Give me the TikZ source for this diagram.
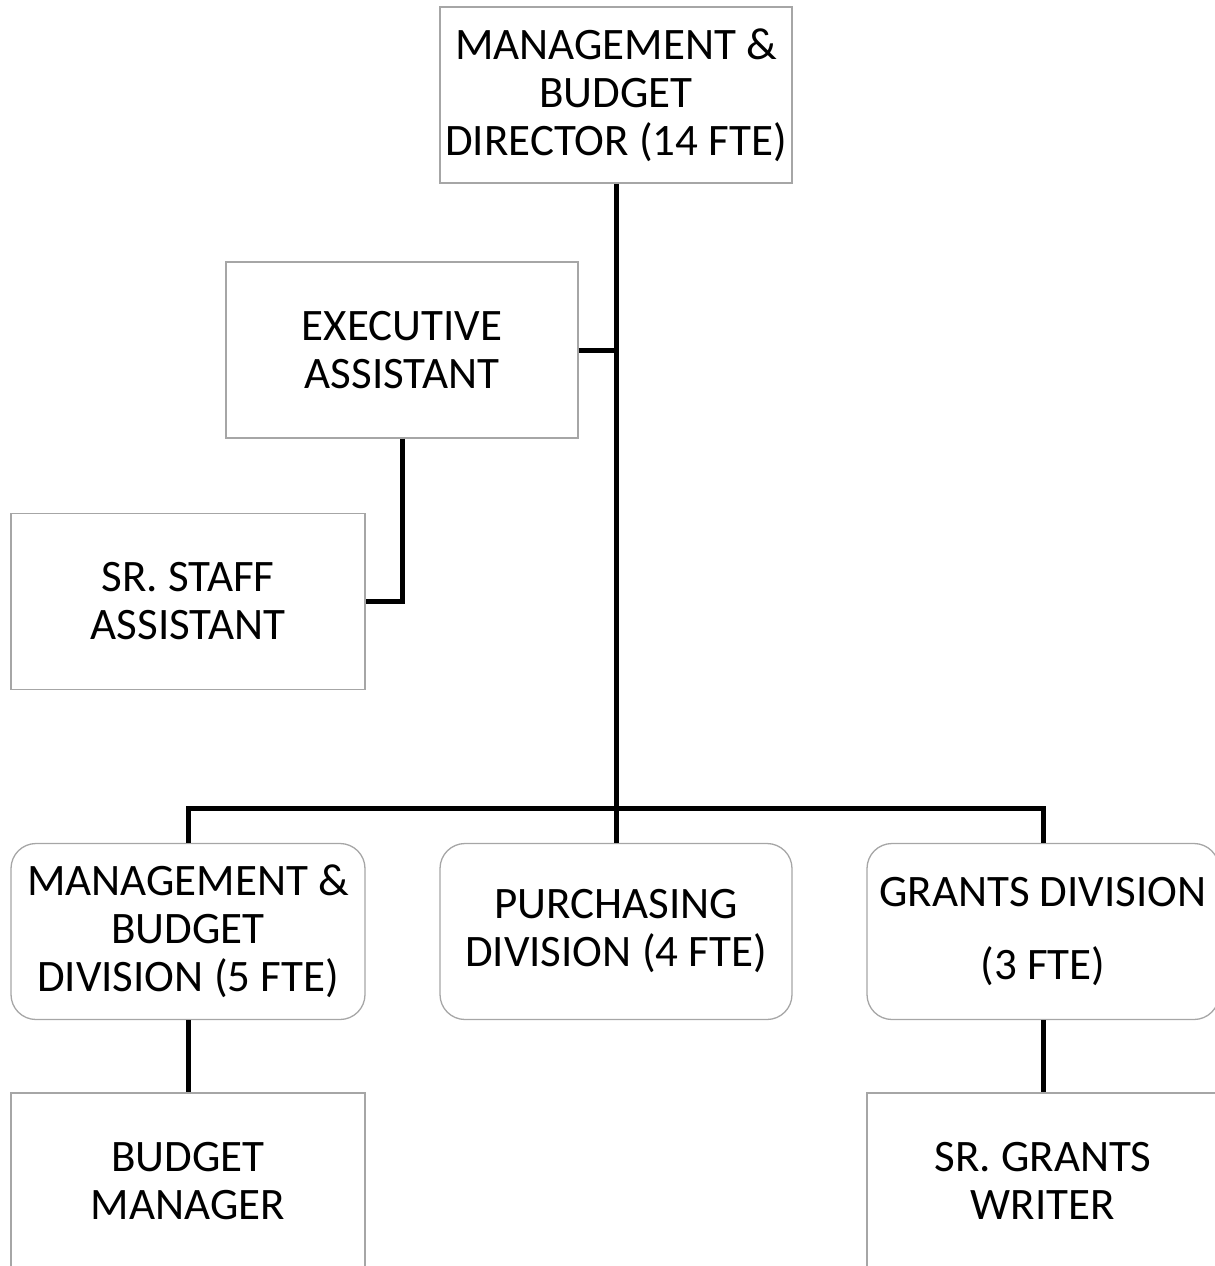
\documentclass[tikz,border=0pt]{standalone}
\usepackage{fontspec}
\setmainfont{Carlito}
\begin{document}
\begin{tikzpicture}[x=1pt,y=-1pt,
  box/.style={draw=black!35, line width=1.3pt, minimum width=352pt, minimum height=176pt, inner sep=0pt, align=center, font=\fontsize{45}{48}\selectfont, text=black},
  rbox/.style={box, rounded corners=25pt},
  conn/.style={line width=5pt, black}]
\useasboundingbox (0,0) rectangle (1215,1266);
\node[box] (top) at (616,95) {MANAGEMENT \&\\BUDGET\\DIRECTOR (14 FTE)};
\node[box] (exec) at (402,350) {EXECUTIVE\\ASSISTANT};
\node[box, minimum width=354pt] (staff) at (188,601.5) {SR. STAFF\\ASSISTANT};
\node[rbox, minimum width=354pt] (mbd) at (188,931.5) {MANAGEMENT \&\\BUDGET\\DIVISION (5 FTE)};
\node[rbox] (pur) at (616,931.5) {PURCHASING\\DIVISION (4 FTE)};
\node[rbox] (grants) at (1043,931.5) {GRANTS DIVISION\\[25pt](3 FTE)};
\node[box, minimum width=354pt] (bm) at (188,1181) {BUDGET\\MANAGER};
\node[box] (writer) at (1043,1181) {SR. GRANTS\\WRITER};
\coordinate (j) at (616,808);
\draw[conn] (top.south) -- (j);
\draw[conn] (exec.east) -- (exec.east -| top.south);
\draw[conn] (exec.south) |- (staff.east);
\draw[conn] (mbd.north) -- (mbd.north |- j) -- (grants.north |- j) -- (grants.north);
\draw[conn] (j) -- (pur.north);
\draw[conn] (mbd.south) -- (bm.north);
\draw[conn] (grants.south) -- (writer.north);
\end{tikzpicture}
\end{document}
